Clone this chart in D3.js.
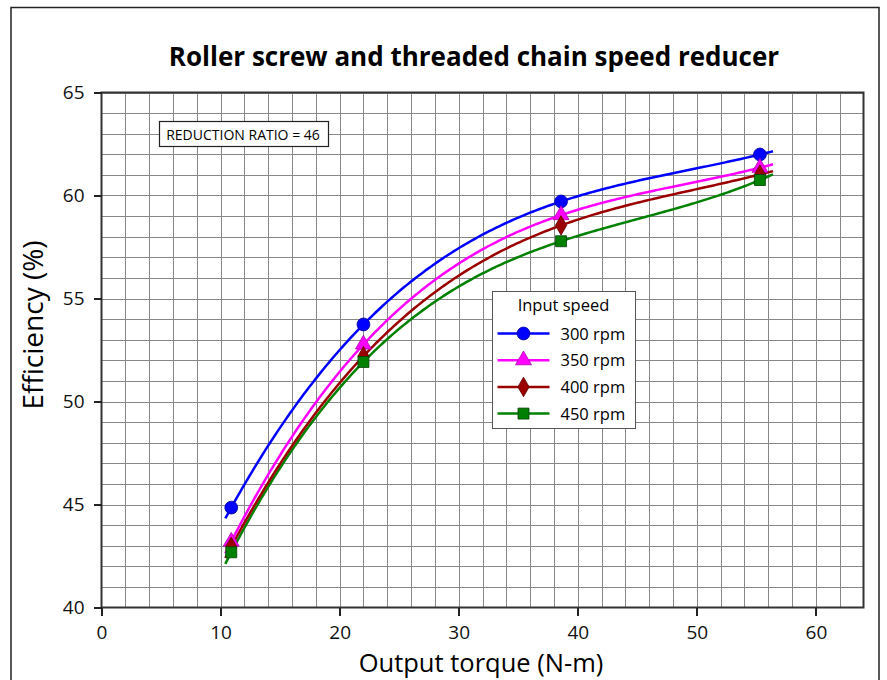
<!DOCTYPE html>
<meta charset="utf-8">
<style>
body { margin: 0; background: #fff; }
svg { font-family: "Open Sans", Lato, sans-serif; }
.grid line { stroke: #888; stroke-width: 1; shape-rendering: crispEdges; }
.axis path, .axis line { stroke: #222; stroke-width: 2; shape-rendering: crispEdges; }
.axis text { font-size: 19px; fill: #111; font-family: "Open Sans", sans-serif; }
</style>
<body>
<div id="chart"></div>
<script src="https://cdn.jsdelivr.net/npm/d3@7"></script>
<script>
// values
var torque = [10.9, 22.0, 38.6, 55.3];
var eff300 = [44.85, 53.74, 59.71, 61.99];
var eff350 = [43.2, 52.77, 59.05, 61.35];
var eff400 = [42.95, 52.2, 58.55, 61.02];
var eff450 = [42.68, 51.92, 57.78, 60.75];
var speeds = ["300 rpm", "350 rpm", "400 rpm", "450 rpm"];
var colors = ["#0000ff", "#ff00ff", "#9b0000", "#008000"];
var strokes = ["#0000a0", "#b000b0", "#600000", "#004000"];
var shapes = [d3.symbolCircle, d3.symbolTriangle, d3.symbolDiamond, d3.symbolSquare];
var xTicks = [0, 10, 20, 30, 40, 50, 60];
var yTicks = [40, 45, 50, 55, 60, 65];
var trendFrom = 10.4, trendTo = 56.4;   // trendline extends a bit past the points

var series = [eff300, eff350, eff400, eff450].map(function(v, i) {
    return { name: speeds[i], color: colors[i], stroke: strokes[i], shape: shapes[i],
             values: torque.map(function(t, j) { return { x: t, y: v[j] }; }) };
});

var W = 887, H = 680;
var margin = { left: 101.5, top: 92.5, right: W - 863.5, bottom: H - 607.5 };

var x = d3.scaleLinear().domain([0, 64]).range([margin.left, W - margin.right]);
var y = d3.scaleLinear().domain([40, 65]).range([H - margin.bottom, margin.top]);

var svg = d3.select("#chart").append("svg").attr("width", W).attr("height", H);

// outer frame
svg.append("rect").attr("x", 11).attr("y", 7.5).attr("width", 868).attr("height", 700)
    .attr("fill", "none").attr("stroke", "#222").attr("stroke-width", 1.5);

svg.append("text").attr("x", 474).attr("y", 66).attr("text-anchor", "middle")
    .style("font-size", "26px").style("font-weight", "bold")
    .text("Roller screw and threaded chain speed reducer");

// grid, every 2 on x and every 1 on y
var grid = svg.append("g").attr("class", "grid");
grid.selectAll(".gx").data(d3.range(2, 64, 2)).enter().append("line")
    .attr("x1", function(d) { return Math.round(x(d)) + 0.5; })
    .attr("x2", function(d) { return Math.round(x(d)) + 0.5; })
    .attr("y1", y(40)).attr("y2", y(65));
grid.selectAll(".gy").data(d3.range(41, 66, 1)).enter().append("line")
    .attr("y1", function(d) { return Math.round(y(d)) + 0.5; })
    .attr("y2", function(d) { return Math.round(y(d)) + 0.5; })
    .attr("x1", x(0)).attr("x2", x(64));

// plot frame
svg.append("rect").attr("x", x(0)).attr("y", y(65)).attr("width", x(64) - x(0)).attr("height", y(40) - y(65))
    .attr("fill", "none").attr("stroke", "#333").attr("stroke-width", 2);

var xAxis = svg.append("g").attr("class", "axis").attr("transform", "translate(0," + y(40) + ")")
    .call(d3.axisBottom(x).tickValues(xTicks).tickSize(8).tickPadding(10).tickFormat(d3.format("d")));
xAxis.select(".domain").remove();
var yAxis = svg.append("g").attr("class", "axis").attr("transform", "translate(" + x(0) + ",0)")
    .call(d3.axisLeft(y).tickValues(yTicks).tickSize(8).tickPadding(9).tickFormat(d3.format("d")));
yAxis.select(".domain").remove();

svg.append("text").attr("x", 481).attr("y", 672).attr("text-anchor", "middle")
    .style("font-size", "25.5px").text("Output torque (N-m)");
svg.append("text").attr("transform", "translate(43,325) rotate(-90)")
    .attr("text-anchor", "middle").style("font-size", "28px").text("Efficiency (%)");

// cubic trendline through the four points (Excel style polynomial, order 3)
function cubic(pts) {
    return function(t) {
        var s = 0;
        pts.forEach(function(p, i) {
            var l = 1;
            pts.forEach(function(q, j) { if (j !== i) l *= (t - q.x) / (p.x - q.x); });
            s += p.y * l;
        });
        return s;
    };
}

var line = d3.line().x(function(d) { return x(d.x); }).y(function(d) { return y(d.y); });
var steps = d3.range(trendFrom, trendTo + 0.001, 0.2);

series.slice().reverse().forEach(function(s) {
    var f = cubic(s.values);
    svg.append("path").datum(steps.map(function(t) { return { x: t, y: f(t) }; }))
        .attr("d", line).attr("fill", "none").attr("stroke", s.color).attr("stroke-width", 2.5);
});

var sym = function(shape) {
    var size = shape === d3.symbolCircle ? 130 : shape === d3.symbolSquare ? 120 : 110;
    return d3.symbol().type(shape).size(size)();
};
series.forEach(function(s) {
    svg.append("g").selectAll("path").data(s.values).enter().append("path")
        .attr("transform", function(d) { return "translate(" + x(d.x) + "," + y(d.y) + ")"; })
        .attr("d", sym(s.shape)).attr("fill", s.color).attr("stroke", s.stroke).attr("stroke-width", 0.8);
});

// reduction ratio box
svg.append("rect").attr("x", 159.5).attr("y", 121.5).attr("width", 169).attr("height", 25)
    .attr("fill", "#fff").attr("stroke", "#222").attr("stroke-width", 1.2);
svg.append("text").attr("x", 243).attr("y", 139.5).attr("text-anchor", "middle")
    .style("font-size", "14px").text("REDUCTION RATIO = 46");

// legend
var lg = svg.append("g").attr("transform", "translate(492.5,291.5)");
lg.append("rect").attr("width", 143).attr("height", 137).attr("fill", "#fff").attr("stroke", "#555").attr("stroke-width", 1);
lg.append("text").attr("x", 71).attr("y", 19).attr("text-anchor", "middle").style("font-size", "16.5px").text("Input speed");
series.forEach(function(s, i) {
    var row = lg.append("g").attr("transform", "translate(0," + (42 + i * 26.7) + ")");
    row.append("line").attr("x1", 5).attr("x2", 57).attr("stroke", s.color).attr("stroke-width", 2.5);
    row.append("path").attr("transform", "translate(31,0)").attr("d", sym(s.shape))
        .attr("fill", s.color).attr("stroke", s.stroke).attr("stroke-width", 0.8);
    row.append("text").attr("x", 68).attr("y", 6).style("font-size", "16.5px").text(s.name);
});
</script>
</body>
